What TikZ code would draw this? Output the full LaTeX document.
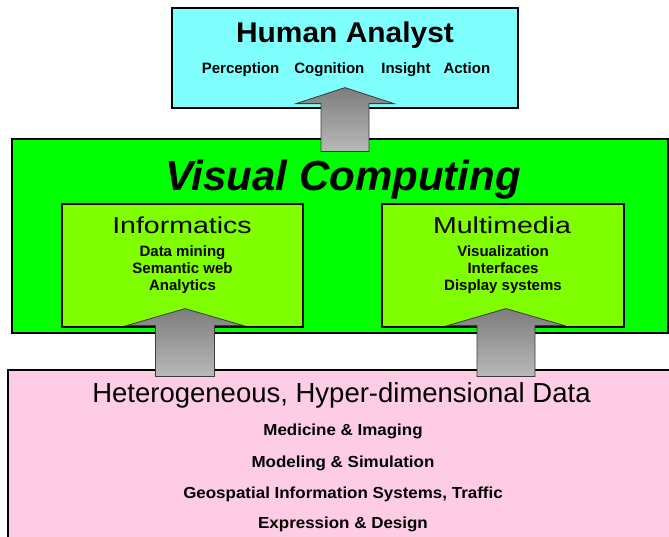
\documentclass[tikz,border=0pt]{standalone}
\usepackage{fontspec}
\usepackage{graphicx}
\setmainfont{Liberation Sans}
\usetikzlibrary{calc}
\definecolor{cyanbox}{RGB}{128,255,255}
\definecolor{greenbox}{RGB}{0,255,0}
\definecolor{limebox}{RGB}{128,255,0}
\definecolor{pinkbox}{RGB}{255,204,230}
\definecolor{arrowtop}{RGB}{125,125,125}
\definecolor{arrowbot}{RGB}{185,185,185}
\definecolor{arrowedge}{RGB}{60,60,60}
\newcommand{\widen}[2]{\scalebox{#1}[1]{#2}}
\tikzset{
  boxstyle/.style={draw=black, line width=1.2pt, inner sep=0pt},
  blockarrow/.style={draw=arrowedge, line width=0.8pt, top color=arrowtop, bottom color=arrowbot, line join=miter},
  lbl/.style={anchor=base, inner sep=0pt},
  ttl/.style={lbl, font=\bfseries\fontsize{28.5}{31}\selectfont},
  vctitle/.style={lbl, font=\bfseries\itshape\fontsize{42}{44}\selectfont},
  subttl/.style={lbl, font=\fontsize{23}{25}\selectfont},
  item/.style={lbl, font=\bfseries\fontsize{15}{17}\selectfont},
  dataitem/.style={lbl, font=\bfseries\fontsize{16}{19}\selectfont},
  datattl/.style={lbl, font=\fontsize{27.5}{29}\selectfont}
}
% #1 tip, #2 bottom point, #3 head half width, #4 shaft half width, #5 head depth
\newcommand{\blkarrow}[5]{%
  \path[blockarrow] let \p1=(#1), \p2=(#2) in
    (\x1,\y1) -- (\x1+#3,\y1-#5) -- (\x1+#4,\y1-#5) -- (\x1+#4,\y2)
    -- (\x1-#4,\y2) -- (\x1-#4,\y1-#5) -- (\x1-#3,\y1-#5) -- cycle;}
\begin{document}
\begin{tikzpicture}[x=1pt,y=-1pt]
\clip (0,0) rectangle (669,536);
\fill[white] (0,0) rectangle (669,536);
% boxes
\node[boxstyle, fill=cyanbox, minimum width=346pt, minimum height=100pt] (ha) at (345,58) {};
\node[boxstyle, fill=greenbox, minimum width=656pt, minimum height=194pt] (vc) at (340,236) {};
\node[boxstyle, fill=limebox, minimum width=241pt, minimum height=123pt] (inf) at (182.5,265.5) {};
\node[boxstyle, fill=limebox, minimum width=242pt, minimum height=123pt] (mm) at (503,265.5) {};
\node[boxstyle, fill=pinkbox, minimum width=672pt, minimum height=176pt] (data) at (344,458) {};
% arrow anchor points
\coordinate (t1) at ($(ha.south)+(0,-21)$);
\coordinate (b1) at ($(vc.north)+(5,13)$);
\coordinate (t2) at ($(inf.south)+(2.5,-19)$);
\coordinate (b2) at ($(data.north)+(-159,7)$);
\coordinate (t3) at ($(mm.south)+(3,-19)$);
\coordinate (b3) at ($(data.north)+(162,7)$);
\blkarrow{t1}{b1}{49pt}{24pt}{16pt}
\blkarrow{t2}{b2}{58.5pt}{29.5pt}{17pt}
\blkarrow{t3}{b3}{58.5pt}{29pt}{17pt}
% texts
\node[ttl] (hat) at (345,42) {\widen{1.05}{Human Analyst}};
\node[item] (hai) at (346,73) {Perception\hspace{15pt}Cognition\hspace{17pt}Insight\hspace{13pt}Action};
\node[vctitle] (vct) at (343,190) {Visual Computing};
\node[subttl] (inft) at (182,233) {\widen{1.24}{Informatics}};
\node[item] (inf1) at (182.5,256) {Data mining};
\node[item] (inf2) at (182.5,273) {Semantic web};
\node[item] (inf3) at (182.5,290) {Analytics};
\node[subttl] (mmt) at (502,233) {\widen{1.24}{Multimedia}};
\node[item] (mm1) at (503,256) {Visualization};
\node[item] (mm2) at (503,273) {Interfaces};
\node[item] (mm3) at (503,290) {Display systems};
\node[datattl] (dt) at (341.5,402) {Heterogeneous, Hyper-dimensional Data};
\node[dataitem] (d1) at (343,435) {\widen{1.06}{Medicine \& Imaging}};
\node[dataitem] (d2) at (343,467) {\widen{1.06}{Modeling \& Simulation}};
\node[dataitem] (d3) at (343,498) {\widen{1.06}{Geospatial Information Systems, Traffic}};
\node[dataitem] (d4) at (343,528) {\widen{1.06}{Expression \& Design}};
\end{tikzpicture}
\end{document}
